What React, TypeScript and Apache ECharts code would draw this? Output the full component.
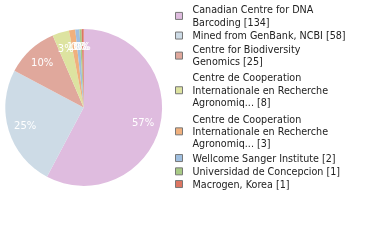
import React, { useEffect, useRef } from "react";
import * as echarts from "echarts";

const names = [
  "Canadian Centre for DNA\nBarcoding [134]",
  "Mined from GenBank, NCBI [58]",
  "Centre for Biodiversity\nGenomics [25]",
  "Centre de Cooperation\nInternationale en Recherche\nAgronomiq... [8]",
  "Centre de Cooperation\nInternationale en Recherche\nAgronomiq... [3] ",
  "Wellcome Sanger Institute [2]",
  "Universidad de Concepcion [1]",
  "Macrogen, Korea [1]",
];
const values = [134, 58, 25, 8, 3, 2, 1, 1];
const colors = [
  "#dfbcdf",
  "#cddbe6",
  "#e0a89c",
  "#dde3a0",
  "#f0b07d",
  "#9fbfe0",
  "#a8ca85",
  "#dd7561",
];
// vertical layout: top of each legend entry (px)
const legendTops = [3.6, 29.4, 43.3, 71.8, 112.9, 151.9, 165.2, 177.9];

export default function App() {
  const ref = useRef<HTMLDivElement>(null);
  useEffect(() => {
    if (!ref.current) return;
    const chart = echarts.init(ref.current, null, { renderer: "svg" });
    const data = names.map((n, i) => ({
      name: n,
      value: values[i],
      itemStyle: { color: colors[i] },
    }));
    const font = "DejaVu Sans";
    const legends = names.map((n, i) => ({
      orient: "vertical",
      left: 175,
      top: legendTops[i],
      itemWidth: 7,
      itemHeight: 7,
      itemGap: 0,
      padding: 0,
      icon: "rect",
      itemStyle: { borderColor: "#777", borderWidth: 1 },
      textStyle: {
        fontFamily: font,
        fontSize: 9.6,
        color: "#222",
        lineHeight: 12.3,
        padding: [0, 0, 0, 5],
      },
      data: [n],
    }));
    chart.setOption({
      animation: false,
      legend: legends,
      series: [
        {
          type: "pie",
          center: [83.7, 107.5],
          radius: [0, 78.4],
          startAngle: 90,
          clockwise: true,
          label: { show: false },
          labelLine: { show: false },
          emphasis: { disabled: true },
          data,
        },
        {
          type: "pie",
          center: [83.7, 107.5],
          radius: [38, 78.4],
          startAngle: 90,
          clockwise: true,
          silent: true,
          legendHoverLink: false,
          itemStyle: { color: "rgba(0,0,0,0)" },
          labelLayout: { hideOverlap: false },
          label: {
            show: true,
            position: "inside",
            color: "#fff",
            fontFamily: font,
            fontSize: 10,
            formatter: (p: any) => Math.floor(p.percent) + "%",
          },
          labelLine: { show: false },
          emphasis: { disabled: true },
          data: values.map((v, i) => ({ name: "lbl" + i, value: v })),
        },
      ],
    });
    return () => chart.dispose();
  }, []);
  return (
    <div
      ref={ref}
      style={{ position: "fixed", left: 0, top: 0, width: 380, height: 240 }}
    />
  );
}
